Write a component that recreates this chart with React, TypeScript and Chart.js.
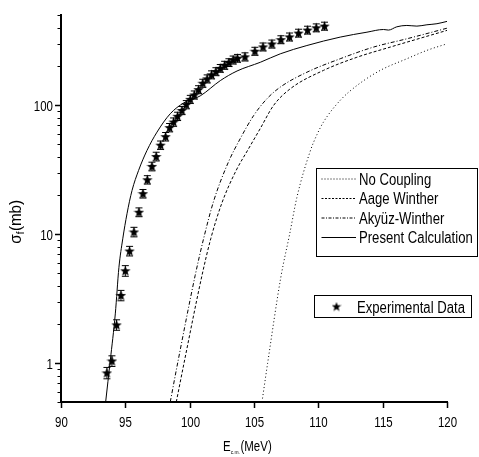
import React, { useEffect, useRef } from 'react';
import { Chart, registerables } from 'chart.js';
Chart.register(...registerables);

const FONT = '"Liberation Sans", Arial, sans-serif';
const NARROW = 0.82;

// Axis ticks
const xTicks = [90, 95, 100, 105, 110, 115, 120];
const yMajorTicks = [1, 10, 100];
const yMinorTicks = [0.5, 0.6, 0.7, 0.8, 0.9, 2, 3, 4, 5, 6, 7, 8, 9, 20, 30, 40, 50, 60, 70, 80, 90, 200, 300, 400, 500];

// Experimental data
const expE = [93.57, 93.96, 94.32, 94.66, 95.0, 95.33, 95.67, 96.06, 96.37, 96.71, 97.07, 97.4, 97.74, 98.13, 98.44, 98.75, 99.06, 99.4, 99.74, 100.05, 100.36, 100.69, 101.02, 101.36, 101.7, 102.04, 102.38, 102.72, 103.05, 103.38, 103.72, 104.3, 105.07, 105.7, 106.39, 107.09, 107.76, 108.46, 109.16, 109.84, 110.48];
const expSigma = [0.84, 1.04, 1.98, 3.35, 5.2, 7.4, 10.4, 14.8, 20.6, 26.4, 33.5, 40, 49, 57, 67, 74, 82, 91, 101, 111, 120, 132, 148, 160, 172, 182, 193, 204, 214, 224, 231, 237, 262, 283, 298, 322, 338, 362, 382, 398, 410];
const expErr = [0.07, 0.08, 0.15, 0.25, 0.4, 0.5, 0.7, 0.9, 1.2, 1.5, 2, 2.4, 2.8, 3.3, 3.8, 4.2, 4.6, 5, 5.6, 6, 6.6, 7, 8, 8.6, 9.2, 9.7, 10, 11, 11, 12, 12, 13, 14, 15, 16, 17, 18, 19, 20, 21, 22];

// No Coupling
const noCouplingE = [105.62, 106.06, 107.08, 107.77, 108.34, 109.37, 109.89, 110.4, 111.7, 113.0, 114.81, 116.88, 118.44, 120];
const noCouplingS = [0.5, 1.0, 4.6, 10, 19.4, 44, 59, 74, 109, 142, 186, 229, 266, 299];

// Aage Winther
const aageE = [98.96, 99.56, 100.98, 101.65, 102.51, 103.6, 104.58, 105.49, 106.52, 107.82, 110.4, 112.99, 115.59, 120];
const aageS = [0.5, 1.0, 4.9, 9.3, 17.5, 31, 46, 66, 99.5, 134, 186, 235, 282, 380];

// Akyüz-Winther
const akyuzE = [98.49, 99.09, 100.43, 101.08, 101.86, 103.0, 103.93, 104.97, 106.0, 107.04, 109.11, 111.7, 114.29, 116.88, 120];
const akyuzS = [0.5, 1.03, 4.8, 9.2, 18, 36, 55, 83, 112, 138, 180, 229, 282, 327, 395];

// Present Calculation
const presentE = [93.47, 93.83, 94.22, 94.5, 94.8, 95.13, 95.52, 96.03, 96.68, 97.46, 98.49, 99.53, 100.82, 102.38, 103.68, 105.49, 107.04, 109.11, 111.7, 113.78, 115.07, 115.45, 116.1, 116.88, 117.66, 118.44, 119.22, 120];
const presentS = [0.5, 1.05, 2.41, 5.5, 9.2, 14.4, 21.8, 31.2, 44.5, 61.8, 85.8, 104, 118, 155, 184, 215, 250, 290, 337, 368, 386, 382, 405, 415, 410, 420, 428, 446];

const legendNames = ['No Coupling', 'Aage Winther', 'Akyüz-Winther', 'Present Calculation'];
const legendDashes: number[][] = [[1, 2], [2, 1.5], [3, 1.5, 1, 1.5], []];
const expLabel = 'Experimental Data';

function pts(xs: number[], ys: number[]) {
  return xs.map((x, i) => ({ x, y: ys[i] }));
}

function makeStar(size: number) {
  const c = document.createElement('canvas');
  c.width = size;
  c.height = size;
  const g = c.getContext('2d')!;
  const cx = size / 2, cy = size / 2 + 0.4;
  const R = size / 2, r = R * 0.42;
  g.beginPath();
  for (let i = 0; i < 10; i++) {
    const rr = i % 2 === 0 ? R : r;
    const a = -Math.PI / 2 + (i * Math.PI) / 5;
    const x = cx + rr * Math.cos(a);
    const y = cy + rr * Math.sin(a);
    if (i === 0) g.moveTo(x, y); else g.lineTo(x, y);
  }
  g.closePath();
  g.fillStyle = '#000';
  g.fill();
  return c;
}

function txt(ctx: CanvasRenderingContext2D, s: string, x: number, y: number, size: number, align: CanvasTextAlign = 'left', sx = NARROW) {
  ctx.save();
  ctx.translate(x, y);
  ctx.scale(sx, 1);
  ctx.font = `${size}px ${FONT}`;
  ctx.textAlign = align;
  ctx.textBaseline = 'alphabetic';
  ctx.fillStyle = '#000';
  ctx.fillText(s, 0, 0);
  const w = ctx.measureText(s).width * sx;
  ctx.restore();
  return w;
}

function tw(ctx: CanvasRenderingContext2D, s: string, size: number, sx = NARROW) {
  ctx.save();
  ctx.font = `${size}px ${FONT}`;
  const w = ctx.measureText(s).width * sx;
  ctx.restore();
  return w;
}

export default function App() {
  const ref = useRef<HTMLCanvasElement>(null);
  useEffect(() => {
    const canvas = ref.current!;
    const star = makeStar(11);
    const legendStar = makeStar(10);

    const decor = {
      id: 'decor',
      beforeDatasetDraw(chart: any, args: any) {
        if (args.index !== 4) return;
        const ctx = chart.ctx;
        const xs = chart.scales.x, ys = chart.scales.y;
        ctx.save();
        ctx.strokeStyle = '#000';
        ctx.lineWidth = 1;
        expE.forEach((e, i) => {
          const px = xs.getPixelForValue(e);
          const t = ys.getPixelForValue(expSigma[i] + expErr[i]) - 1;
          const b = ys.getPixelForValue(expSigma[i] - expErr[i]) + 1;
          ctx.beginPath();
          ctx.moveTo(px, t); ctx.lineTo(px, b);
          ctx.moveTo(px - 3.5, t); ctx.lineTo(px + 3.5, t);
          ctx.moveTo(px - 3.5, b); ctx.lineTo(px + 3.5, b);
          ctx.stroke();
        });
        ctx.restore();
      },
      afterDraw(chart: any) {
        const ctx = chart.ctx;
        const xs = chart.scales.x, ys = chart.scales.y;
        const area = chart.chartArea;
        ctx.save();
        ctx.strokeStyle = '#000';
        ctx.lineWidth = 1.5;
        // x ticks + labels
        xTicks.forEach((v) => {
          const px = Math.round(xs.getPixelForValue(v)) + 0.5;
          ctx.beginPath(); ctx.moveTo(px, area.bottom); ctx.lineTo(px, area.bottom + 6); ctx.stroke();
          txt(ctx, String(v), px, area.bottom + 25, 14, 'center');
        });
        // y ticks + labels
        yMajorTicks.forEach((v) => {
          const py = Math.round(ys.getPixelForValue(v)) + 0.5;
          ctx.beginPath(); ctx.moveTo(area.left, py); ctx.lineTo(area.left - 6, py); ctx.stroke();
          txt(ctx, String(v), area.left - 8, py + 5, 14, 'right');
        });
        ctx.lineWidth = 1;
        yMinorTicks.forEach((v) => {
          const py = Math.round(ys.getPixelForValue(v)) + 0.5;
          ctx.beginPath(); ctx.moveTo(area.left, py); ctx.lineTo(area.left - 3.5, py); ctx.stroke();
        });

        // X title: E_c.m. (MeV)
        const x0 = (area.left + area.right) / 2 - 31;
        const by = 451;
        let w = txt(ctx, 'E', x0, by, 14);
        w += txt(ctx, 'c.m.', x0 + w, by + 3, 6) + 0.5;
        txt(ctx, '(MeV)', x0 + w, by, 14);

        // Y title: σ_f(mb)
        ctx.save();
        ctx.translate(21, 222);
        ctx.rotate(-Math.PI / 2);
        const w1 = tw(ctx, 'σ', 16, 0.95);
        const w2 = tw(ctx, 'f', 10, 0.95);
        const w3 = tw(ctx, '(mb)', 16, 0.95);
        const start = -(w1 + w2 + w3) / 2;
        txt(ctx, 'σ', start, 0, 16, 'left', 0.95);
        txt(ctx, 'f', start + w1, 3, 10, 'left', 0.95);
        txt(ctx, '(mb)', start + w1 + w2 + 0.5, 0, 16, 'left', 0.95);
        ctx.restore();

        // Legend box 1
        ctx.lineWidth = 1;
        ctx.strokeRect(316.5, 168.5, 161, 88);
        const rows = [178.5, 198, 217.5, 237];
        legendNames.forEach((name, i) => {
          ctx.beginPath();
          ctx.setLineDash(legendDashes[i]);
          ctx.moveTo(321.5, rows[i] + 0.5);
          ctx.lineTo(356, rows[i] + 0.5);
          ctx.stroke();
          ctx.setLineDash([]);
          txt(ctx, name, 359, rows[i] + 6, 16);
        });
        // Legend box 2
        ctx.strokeRect(314.5, 295.5, 157, 22);
        ctx.drawImage(legendStar, 336.5 - 5, 306.5 - 5);
        txt(ctx, expLabel, 357, 312.5, 16);
        ctx.restore();
      },
    };

    const curve = (label: string, xs: number[], ys: number[], dash: number[]) => ({
      label,
      data: pts(xs, ys),
      showLine: true,
      borderColor: '#000',
      borderWidth: 1,
      borderDash: dash,
      pointRadius: 0,
      cubicInterpolationMode: 'monotone' as const,
      fill: false,
    });

    const chart = new Chart(canvas, {
      type: 'scatter',
      data: {
        datasets: [
          curve(legendNames[0], noCouplingE, noCouplingS, [1, 2.5]),
          curve(legendNames[1], aageE, aageS, [3, 2]),
          curve(legendNames[2], akyuzE, akyuzS, [4, 2, 1, 2]),
          curve(legendNames[3], presentE, presentS, []),
          {
            label: expLabel,
            data: pts(expE, expSigma),
            pointStyle: star as any,
            pointRadius: 5,
            showLine: false,
          } as any,
        ],
      },
      options: {
        animation: false,
        responsive: false,
        events: [],
        layout: { padding: { top: 15, right: 32, left: 0, bottom: 0 } },
        plugins: { legend: { display: false }, tooltip: { enabled: false } },
        scales: {
          x: {
            type: 'linear',
            min: 90,
            max: 120,
            afterBuildTicks: (s: any) => { s.ticks = xTicks.map((v) => ({ value: v })); },
            afterFit: (s: any) => { s.height = 55; s.paddingLeft = 0; s.paddingRight = 0; },
            grid: { display: false, drawTicks: false },
            border: { display: true, color: '#000', width: 2 },
            ticks: { display: false },
          },
          y: {
            type: 'logarithmic',
            min: 0.5,
            max: 500,
            afterBuildTicks: (s: any) => { s.ticks = yMajorTicks.map((v) => ({ value: v })); },
            afterFit: (s: any) => { s.width = 61; s.paddingTop = 0; s.paddingBottom = 0; },
            grid: { display: false, drawTicks: false },
            border: { display: true, color: '#000', width: 2 },
            ticks: { display: false },
          },
        },
      },
      plugins: [decor],
    });
    return () => chart.destroy();
  }, []);
  return (
    <div style={{ position: 'absolute', left: 0, top: 0, width: 479, height: 457 }}>
      <canvas ref={ref} width={479} height={457} style={{ display: 'block', width: 479, height: 457 }} />
    </div>
  );
}
